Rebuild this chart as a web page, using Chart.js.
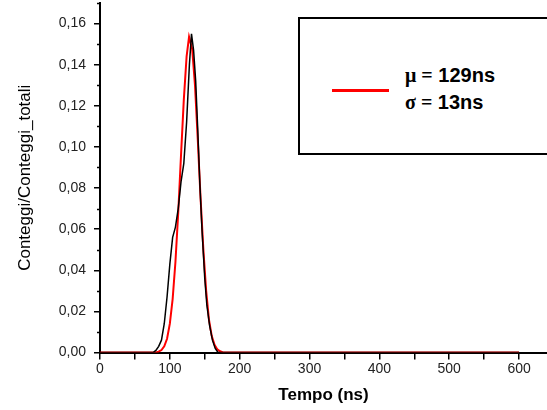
<!DOCTYPE html>
<html lang="it">
<head>
  <meta charset="UTF-8">
  <title>Conteggi / Tempo</title>
  <script src="https://cdn.jsdelivr.net/npm/chart.js"></script>
  <style>
    html, body { margin: 0; padding: 0; background: #fff; overflow: hidden; }
    .wrap { position: relative; width: 547px; height: 410px; overflow: hidden; }
    .legend-box {
      position: absolute; left: 298px; top: 17px; width: 270px; height: 134px;
      border: 2px solid #000; background: #fff;
    }
    .legend-line { position: absolute; left: 332px; top: 89px; width: 57px; height: 3px; background: #ff0000; }
    .legend-text {
      position: absolute; left: 405px; top: 62px;
      font: bold 20px 'Liberation Sans', Arial, sans-serif; line-height: 27px; color: #000;
    }
    .sym { font-family: 'Liberation Serif', 'Times New Roman', serif; font-weight: bold; }
  </style>
</head>
<body>
  <div class="wrap">
    <canvas id="chart" width="547" height="410"></canvas>
    <div class="legend-box"></div>
    <div class="legend-line"></div>
    <div class="legend-text">
      <div><span class="sym">μ =</span> 129ns</div>
      <div><span class="sym">σ =</span> 13ns</div>
    </div>
  </div>
  <script>
    // dati misurati (nero)
    const blackTime   = [0, 76, 80, 84, 88, 92, 96, 100, 104, 108, 112, 116, 120, 124, 128, 131, 134, 137, 140, 143, 146, 148, 150, 153, 157, 161, 165, 169, 600];
    const blackCounts = [0, 0, 0.001, 0.003, 0.006, 0.014, 0.027, 0.043, 0.056, 0.061, 0.070, 0.083, 0.092, 0.112, 0.140, 0.155, 0.147, 0.132, 0.108, 0.082, 0.060, 0.048, 0.036, 0.023, 0.013, 0.006, 0.002, 0, 0];

    // fit gaussiano (rosso)
    const fitTime   = [0, 80, 84, 88, 92, 96, 100, 104, 108, 112, 116, 120, 124, 127.5, 132, 136, 140, 144, 148, 152, 156, 160, 164, 168, 172, 176, 600];
    const fitCounts = [0, 0, 0.0004, 0.0012, 0.003, 0.0067, 0.014, 0.026, 0.044, 0.068, 0.096, 0.123, 0.144, 0.1535, 0.1475, 0.130, 0.1035, 0.075, 0.050, 0.030, 0.016, 0.008, 0.0037, 0.0015, 0.0006, 0, 0];

    const xMax = 640, xStep = 50, xLabelStep = 100, xLastTick = 600;
    const yMax = 0.17, yStep = 0.02, yMinorStep = 0.01, yLastTick = 0.16;

    const font = "'Liberation Sans', Arial, sans-serif";
    const toPoints = (xs, ys) => xs.map((x, i) => ({ x: x, y: ys[i] }));
    const isMult = (v, s) => Math.abs(v / s - Math.round(v / s)) < 1e-6;

    const minorTicks = {
      id: 'minorTicks',
      afterDraw(chart) {
        const y = chart.scales.y, ctx = chart.ctx, left = chart.chartArea.left;
        ctx.save();
        ctx.strokeStyle = '#000';
        ctx.lineWidth = 1.5;
        for (let v = yMinorStep; v <= yMax + 1e-9; v += yStep) {
          const py = Math.round(y.getPixelForValue(v)) + 0.5;
          ctx.beginPath();
          ctx.moveTo(left - 3, py);
          ctx.lineTo(left, py);
          ctx.stroke();
        }
        ctx.restore();
      }
    };

    new Chart(document.getElementById('chart'), {
      type: 'line',
      data: {
        datasets: [
          { data: toPoints(blackTime, blackCounts), borderColor: '#000', borderWidth: 1.5, pointRadius: 0, tension: 0 },
          { data: toPoints(fitTime, fitCounts), borderColor: '#ff0000', borderWidth: 2, pointRadius: 0, tension: 0 }
        ]
      },
      options: {
        responsive: false,
        animation: false,
        layout: { padding: { top: 3, right: 0, bottom: 0, left: 0 } },
        plugins: { legend: { display: false }, tooltip: { enabled: false } },
        scales: {
          x: {
            type: 'linear', min: 0, max: xMax,
            afterFit: s => { s.height = 57.5; s.paddingLeft = 0; s.paddingRight = 0; },
            afterBuildTicks: s => {
              const t = [];
              for (let v = 0; v <= xLastTick; v += xStep) t.push({ value: v });
              s.ticks = t;
            },
            ticks: {
              stepSize: xStep, padding: 1, color: '#222', autoSkip: false, maxRotation: 0,
              font: { family: font, size: 14 },
              callback: v => isMult(v, xLabelStep) ? String(v) : ''
            },
            grid: { drawOnChartArea: false, color: '#000', lineWidth: 1.5, tickLength: 7 },
            border: { color: '#000', width: 2 },
            title: { display: true, text: 'Tempo (ns)', color: '#000', padding: { top: 0, bottom: 4 },
                     font: { family: font, size: 17, weight: 'bold' } }
          },
          y: {
            min: 0, max: yMax,
            afterFit: s => { s.width = 100; s.paddingTop = 0; s.paddingBottom = 0; },
            afterBuildTicks: s => {
              const t = [];
              for (let i = 0; i * yStep <= yLastTick + 1e-9; i++) t.push({ value: +(i * yStep).toFixed(2) });
              s.ticks = t;
            },
            ticks: {
              stepSize: yStep, padding: 8, color: '#222', autoSkip: false,
              font: { family: font, size: 14 },
              callback: v => v.toFixed(2).replace('.', ',')
            },
            grid: { drawOnChartArea: false, color: '#000', lineWidth: 1.5, tickLength: 6 },
            border: { color: '#000', width: 2 },
            title: { display: true, text: 'Conteggi/Conteggi_totali', color: '#000', padding: { top: 15, bottom: 0 },
                     font: { family: font, size: 17 } }
          }
        }
      },
      plugins: [minorTicks]
    });
  </script>
</body>
</html>
